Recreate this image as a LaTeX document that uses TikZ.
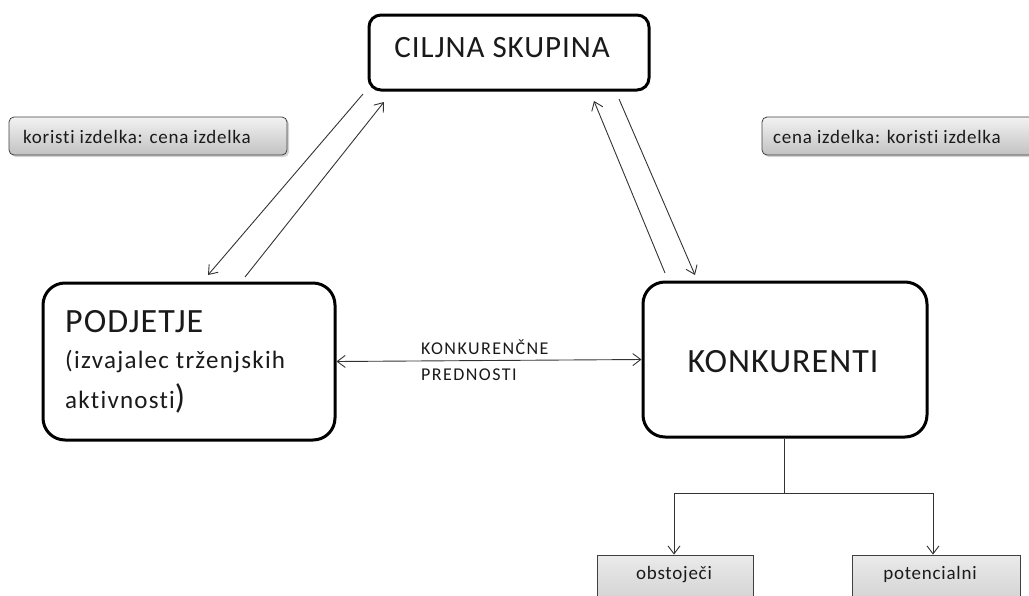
\documentclass[tikz,border=0pt]{standalone}
\usepackage{fontspec}
\setmainfont[Ligatures=NoCommon]{Carlito}
\newfontfamily\bigface[Ligatures=NoCommon,LetterSpace=3]{Carlito}
\newfontfamily\midface[Ligatures=NoCommon,LetterSpace=5]{Carlito}
\newfontfamily\smallface[Ligatures=NoCommon,LetterSpace=4]{Carlito}
\newfontfamily\capface[Ligatures=NoCommon,LetterSpace=8]{Carlito}
\usetikzlibrary{arrows.meta,shadows}
\definecolor{ink}{HTML}{1A1A1A}
\definecolor{wire}{HTML}{333333}
\tikzset{
  bigbox/.style={draw=black, line width=3pt, fill=white, inner sep=0pt},
  tag/.style={draw=black!75, line width=0.8pt, rounded corners=5pt, inner sep=0pt,
    top color=black!5, bottom color=black!24,
    drop shadow={opacity=0.35, shadow xshift=2pt, shadow yshift=-2pt}},
  flat/.style={draw=black!75, line width=0.8pt, inner sep=0pt,
    top color=black!8, bottom color=black!20},
  conn/.style={draw=wire, line width=0.9pt},
  tip/.style={-{Straight Barb[length=8pt,width=12pt,line width=0.9pt]}},
  bigtxt/.style={text=ink, inner sep=0pt, font=\bigface\fontsize{34}{38}\selectfont},
  toptxt/.style={text=ink, inner sep=0pt, font=\bigface\fontsize{31}{36}\selectfont},
  midtxt/.style={text=ink, inner sep=0pt, font=\midface\fontsize{25}{28}\selectfont},
  smalltxt/.style={text=ink, inner sep=0pt, font=\smallface\fontsize{19}{21}\selectfont},
  captxt/.style={text=ink, inner sep=0pt, font=\capface\fontsize{18}{21}\selectfont},
}
\begin{document}
\begin{tikzpicture}[x=1pt,y=-1pt]
\useasboundingbox (0,0) rectangle (1029,595);

% main boxes
\node[bigbox, rounded corners=12pt, minimum width=280pt, minimum height=75pt] (cilj) at (509,52.5) {};
\node[bigbox, rounded corners=22pt, minimum width=292pt, minimum height=157pt] (podj) at (189,361.5) {};
\node[bigbox, rounded corners=22pt, minimum width=284pt, minimum height=155pt] (konk) at (785,359.5) {};

\node[toptxt, anchor=base] (tcilj) at (502,57) {CILJNA SKUPINA};
\node[bigtxt, anchor=base west] (tpodj) at (65,332) {PODJETJE};
\node[midtxt, anchor=base west] (tpodj2) at (65,368) {(izvajalec trženjskih};
\node[midtxt, anchor=base west] (tpodj3) at (65,408) {aktivnosti\fontsize{34}{38}\selectfont)};
\node[bigtxt, anchor=base] (tkonk) at (783,372) {KONKURENTI};

% side tags
\node[tag, minimum width=278pt, minimum height=38pt] (tagl) at (148,136) {};
\node[smalltxt, anchor=base west] at (23,143) {koristi izdelka: cena izdelka};
\node[tag, minimum width=290pt, minimum height=38pt] (tagr) at (907,136) {};
\node[smalltxt, anchor=base west] at (773,143) {cena izdelka: koristi izdelka};

% lower boxes
\node[flat, minimum width=156pt, minimum height=60pt] (obst) at (675,585) {};
\node[smalltxt, anchor=base] at (674,579) {obstoječi};
\node[flat, minimum width=168pt, minimum height=60pt] (pote) at (936,585) {};
\node[smalltxt, anchor=base] at (930,579) {potencialni};

% connector end points
\coordinate (a1) at (363,94);  \coordinate (a2) at (208,275);
\coordinate (b1) at (245,277); \coordinate (b2) at (384,102);
\coordinate (c1) at (665,273); \coordinate (c2) at (594,101);
\coordinate (d1) at (619,99);  \coordinate (d2) at (695,275);
\coordinate (split) at (784,493);
\coordinate (sl) at (674,493);
\coordinate (sr) at (933,493);

% exchange between target group and the two players
\draw[conn, tip] (a1) -- (a2);
\draw[conn, tip] (b1) -- (b2);
\draw[conn, tip] (c1) -- (c2);
\draw[conn, tip] (d1) -- (d2);

% competitive advantages
\draw[conn, {Straight Barb[length=8pt,width=12pt,line width=0.9pt]}-{Straight Barb[length=8pt,width=12pt,line width=0.9pt]}]
  (podj.east) -- (konk.west);
\node[captxt, anchor=base west] at (421,354) {KONKURENČNE};
\node[captxt, anchor=base west] at (421,380) {PREDNOSTI};

% split of competitors
\draw[conn] (konk.south -| split) -- (split);
\draw[conn] (sl) -- (sr);
\draw[conn, tip] (sl) -- (obst.north -| sl);
\draw[conn, tip] (sr) -- (pote.north -| sr);
\end{tikzpicture}
\end{document}
